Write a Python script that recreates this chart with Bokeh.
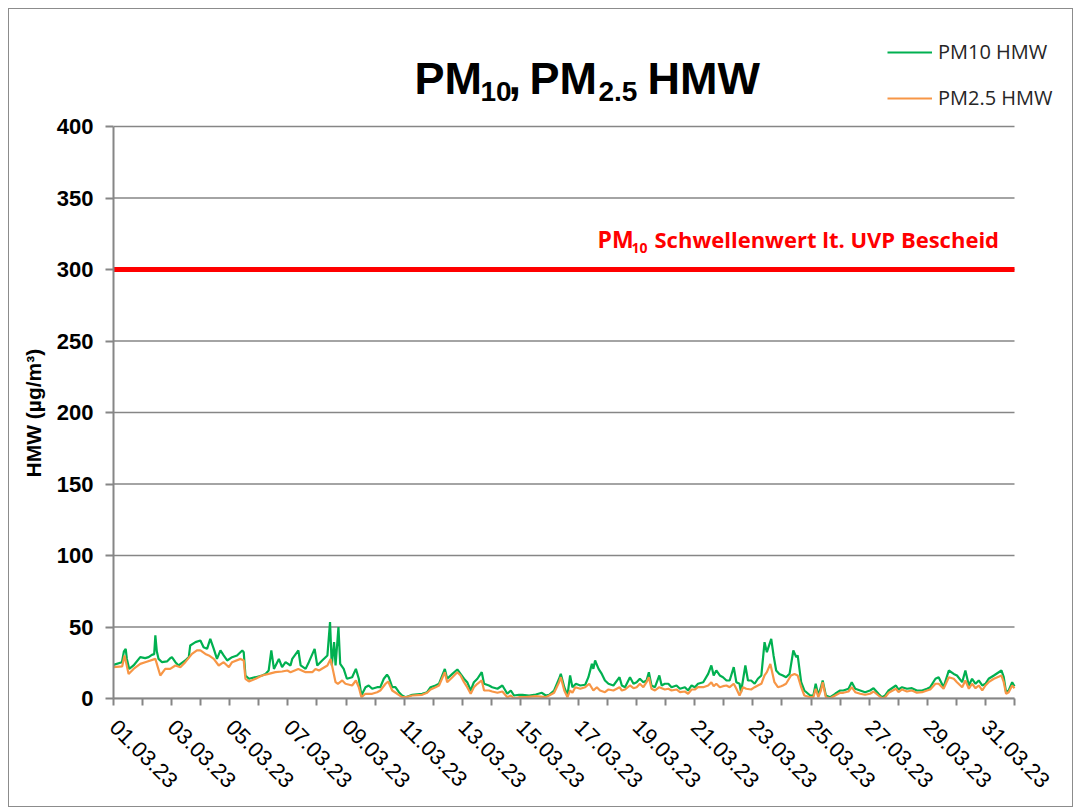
from bokeh.plotting import figure
from bokeh.models import Range1d, FixedTicker, Label, Legend, LegendItem, Title
from bokeh.embed import file_html
from bokeh.resources import INLINE

# ---- data: time in days since 01.03.23 00:00, values in µg/m³ ----
pm10_days = [0.00,0.29,0.36,0.42,0.46,0.54,0.69,0.92,1.09,1.21,1.32,1.40,1.44,1.49,1.55,1.67,1.84,1.95,2.01,2.13,
             2.24,2.47,2.59,2.64,2.82,2.99,3.10,3.22,3.33,3.45,3.56,3.68,3.79,3.91,4.08,4.25,4.43,4.48,4.54,4.66,
             4.89,5.11,5.23,5.34,5.43,5.52,5.69,5.80,5.92,6.09,6.15,6.36,6.44,6.61,6.72,6.92,7.01,7.18,7.36,7.45,
             7.51,7.59,7.64,7.74,7.80,7.92,8.03,8.21,8.34,8.44,8.53,8.67,8.78,8.90,9.07,9.18,9.30,9.41,9.47,9.59,
             9.70,9.82,9.93,10.05,10.28,10.62,10.79,10.91,11.08,11.20,11.40,11.48,11.66,11.83,11.94,12.06,12.17,12.29,12.40,12.52,
             12.67,12.75,12.92,13.03,13.21,13.38,13.55,13.67,13.78,13.95,14.07,14.30,14.53,14.74,14.87,14.99,15.16,15.33,15.39,15.51,
             15.62,15.71,15.79,15.91,16.06,16.23,16.34,16.46,16.51,16.57,16.69,16.80,16.91,17.03,17.20,17.41,17.49,17.60,17.77,17.89,
             18.00,18.11,18.23,18.34,18.42,18.51,18.63,18.78,18.86,18.97,19.09,19.20,19.37,19.49,19.66,19.77,19.89,20.00,20.11,20.29,
             20.46,20.57,20.65,20.74,20.86,20.97,21.09,21.20,21.34,21.43,21.54,21.59,21.74,21.83,21.94,22.06,22.17,22.29,22.40,22.48,
             22.63,22.71,22.80,22.91,23.03,23.14,23.26,23.39,23.49,23.54,23.66,23.77,23.97,24.08,24.16,24.25,24.34,24.40,24.51,24.66,
             24.83,25.00,25.11,25.29,25.40,25.52,25.69,25.86,26.03,26.15,26.32,26.44,26.55,26.67,26.92,27.01,27.13,27.30,27.47,27.64,
             27.82,27.99,28.10,28.28,28.39,28.56,28.74,28.91,29.02,29.20,29.31,29.43,29.54,29.66,29.77,29.89,30.00,30.11,30.29,30.55,
             30.63,30.71,30.80,30.92,31.00]
pm10_values = [23.5,25.4,33.0,34.7,27.7,20.7,23.1,28.9,28.2,28.9,30.5,31.0,44.1,33.0,27.7,25.4,25.9,28.2,28.9,25.4,
               23.1,26.6,28.9,37.1,39.4,40.6,35.9,34.7,41.7,34.7,27.7,33.6,30.1,26.6,28.9,30.1,33.6,32.4,16.1,13.8,
               14.9,16.1,17.2,19.6,33.6,20.7,27.7,21.9,25.4,23.1,27.7,33.6,23.1,20.7,25.4,34.7,23.1,26.6,30.1,53.4,
               23.1,39.4,23.1,49.9,24.2,20.7,13.8,14.9,20.7,13.8,2.1,7.9,9.1,6.8,7.9,7.9,13.8,16.6,14.9,7.9,
               7.9,4.4,2.1,0.9,2.6,3.3,4.4,7.9,9.1,10.3,20.7,13.8,17.2,20.3,17.2,13.8,11.4,5.6,11.4,13.8,
               18.4,10.3,9.1,7.9,6.8,9.1,3.3,5.6,2.1,2.6,2.6,2.1,2.8,4.0,2.1,2.6,5.6,13.8,17.2,7.9,
               2.1,16.1,7.9,10.3,9.1,9.6,14.9,24.2,20.7,26.6,20.7,17.2,12.6,10.3,9.1,14.9,9.1,7.9,14.9,10.3,
               11.4,13.8,11.4,12.6,18.4,9.1,7.9,16.1,9.1,10.3,10.3,7.9,9.1,6.8,7.9,5.6,9.1,7.9,10.3,11.4,
               17.2,23.1,16.1,19.6,16.1,14.9,12.6,12.6,21.9,11.4,10.3,4.4,23.1,12.6,12.6,10.3,13.8,16.1,39.4,32.4,
               41.7,30.1,19.6,17.2,16.1,14.9,17.2,33.6,28.9,30.1,11.4,5.6,2.1,2.1,10.3,2.1,7.9,12.6,2.1,0.9,
               3.3,5.6,5.6,6.8,11.4,6.8,5.6,4.4,5.6,7.2,3.3,0.9,2.1,5.6,9.1,6.3,7.9,6.8,7.2,5.6,
               5.6,6.8,7.9,13.8,14.9,7.9,19.6,17.2,16.1,11.4,19.6,9.1,13.8,10.3,12.6,9.1,10.3,13.8,16.1,19.6,
               14.9,4.4,5.6,11.4,8.6]

pm25_days = [0.00,0.30,0.38,0.52,0.69,0.92,1.09,1.44,1.61,1.78,1.95,2.13,2.30,2.47,2.70,2.87,2.99,3.16,3.28,3.45,
             3.62,3.79,3.97,4.08,4.37,4.48,4.54,4.66,4.89,5.11,5.34,5.57,5.80,5.98,6.09,6.36,6.61,6.84,6.95,7.07,
             7.36,7.47,7.64,7.72,7.87,7.98,8.21,8.34,8.44,8.53,8.67,8.90,9.07,9.18,9.36,9.45,9.59,9.76,9.93,10.05,
             10.28,10.62,10.79,10.91,11.08,11.20,11.40,11.48,11.66,11.83,11.94,12.06,12.17,12.29,12.40,12.52,12.67,12.75,12.92,13.03,
             13.21,13.38,13.55,13.67,13.78,13.95,14.18,14.53,14.87,14.99,15.16,15.33,15.39,15.51,15.62,15.71,15.79,15.89,16.06,16.23,
             16.37,16.51,16.63,16.74,16.91,17.03,17.20,17.41,17.49,17.60,17.77,17.89,18.00,18.11,18.23,18.34,18.42,18.51,18.63,18.78,
             18.97,19.09,19.20,19.37,19.49,19.66,19.77,19.89,20.00,20.11,20.29,20.46,20.57,20.65,20.74,20.86,20.97,21.09,21.20,21.34,
             21.43,21.54,21.66,21.77,21.94,22.06,22.17,22.29,22.40,22.48,22.60,22.74,22.86,22.97,23.03,23.14,23.31,23.43,23.54,23.66,
             23.77,23.97,24.08,24.16,24.25,24.34,24.40,24.51,24.66,24.83,25.00,25.11,25.29,25.40,25.52,25.69,25.86,26.03,26.15,26.32,
             26.44,26.55,26.67,26.92,27.01,27.13,27.30,27.47,27.64,27.82,27.99,28.10,28.28,28.39,28.56,28.74,28.91,29.02,29.20,29.31,
             29.43,29.54,29.66,29.77,29.89,30.00,30.11,30.29,30.55,30.63,30.71,30.80,30.92,31.00]
pm25_values = [21.9,22.5,30.1,17.2,20.7,24.2,25.4,27.7,16.1,20.7,20.7,23.1,21.9,25.4,31.2,33.6,33.6,31.2,30.1,27.7,
               23.1,25.4,21.9,25.4,27.7,26.6,13.8,11.9,13.8,16.1,17.2,18.4,18.9,19.6,18.4,20.7,18.4,18.4,20.7,19.6,
               23.1,27.7,11.4,10.3,12.6,10.3,9.1,12.6,7.9,0.9,3.3,3.3,4.4,5.6,10.3,11.9,5.6,3.3,0.9,0.9,
               2.1,2.6,4.0,6.3,7.9,9.1,18.4,11.4,14.9,18.4,16.1,11.4,7.9,3.3,7.9,10.3,12.6,5.6,5.6,4.9,
               4.0,4.9,0.9,2.1,0.2,0.9,0.9,1.6,0.9,2.1,4.0,11.4,14.9,5.6,0.9,5.6,4.0,7.9,6.8,7.9,
               10.3,5.6,7.9,5.6,4.4,6.3,5.6,7.9,5.6,6.3,9.1,7.2,7.9,10.3,7.9,11.4,14.9,6.8,5.6,7.9,
               6.3,6.8,5.6,6.3,4.4,4.9,3.3,6.3,6.3,7.9,7.9,9.1,11.4,8.6,10.3,7.9,8.6,9.1,7.9,10.3,
               6.8,2.1,7.9,6.8,6.3,7.9,9.1,10.3,16.1,18.4,24.2,11.4,7.9,8.6,9.1,10.3,16.1,17.2,16.1,7.9,
               2.1,0.9,0.9,6.8,0.9,5.6,11.4,0.9,0.2,2.1,4.0,4.0,4.9,7.9,4.4,3.3,2.6,3.3,4.9,2.1,
               0.2,0.9,4.0,6.8,4.4,6.3,4.9,5.6,4.0,4.4,5.6,6.3,10.3,10.3,6.8,14.9,13.8,11.4,7.9,12.6,
               6.8,10.3,7.2,9.1,5.6,9.1,11.4,13.8,16.1,11.4,3.3,4.4,9.1,7.2]

threshold = 300
y_ticks = [0, 50, 100, 150, 200, 250, 300, 350, 400]
day_ticks = list(range(32))
label_days = [0, 2, 4, 6, 8, 10, 12, 14, 16, 18, 20, 22, 24, 26, 28, 30]
date_labels = ["01.03.23", "03.03.23", "05.03.23", "07.03.23", "09.03.23", "11.03.23", "13.03.23", "15.03.23",
               "17.03.23", "19.03.23", "21.03.23", "23.03.23", "25.03.23", "27.03.23", "29.03.23", "31.03.23"]

GREEN = "#00B050"
ORANGE = "#F79646"
GRAY = "#868686"
RED = "#FF0000"
ARIAL = "Liberation Sans"

# layout (pixels)
W, H = 1065, 799
FL, FB = 104, 110           # frame left offset, bottom panel height
PLOT_W, PLOT_H = 901, 572   # pixel extent of the 0..31 days / 0..400 area
x_max = 31 * (W - FL) / PLOT_W
y_max = 400 * (H - FB) / PLOT_H

p = figure(width=W, height=H, x_range=Range1d(0, x_max), y_range=Range1d(0, y_max),
           output_backend="svg", toolbar_location=None,
           min_border_left=FL, min_border_right=0, min_border_top=0, min_border_bottom=FB)
p.styles = {"border": "1px solid #8c8c8c", "margin": "8px 0 0 8px"}
p.outline_line_color = None
p.background_fill_color = "white"
p.border_fill_color = "white"
p.xgrid.visible = False
p.ygrid.visible = False

# horizontal grid lines over the 0..31 day span
p.segment(x0=[0] * len(y_ticks), x1=[31] * len(y_ticks), y0=y_ticks, y1=y_ticks,
          line_color=GRAY, line_width=1.5)

r10 = p.line(pm10_days, pm10_values, line_color=GREEN, line_width=2.2)
r25 = p.line(pm25_days, pm25_values, line_color=ORANGE, line_width=2.2)

p.line([0, 31], [threshold, threshold], line_color=RED, line_width=5)

# axes
p.yaxis.ticker = FixedTicker(ticks=y_ticks)
p.yaxis.bounds = (0, 400)
p.yaxis.axis_line_color = GRAY
p.yaxis.axis_line_width = 2
p.yaxis.major_tick_line_color = GRAY
p.yaxis.major_tick_line_width = 2
p.yaxis.major_tick_in = 0
p.yaxis.major_tick_out = 8
p.yaxis.minor_tick_line_color = None
p.yaxis.major_label_standoff = 12
p.yaxis.major_label_text_font = ARIAL
p.yaxis.major_label_text_font_style = "bold"
p.yaxis.major_label_text_font_size = "22px"
p.yaxis.major_label_text_color = "black"

# y-axis title, centred on the 0..400 part of the axis
p.add_layout(Title(text="HMW (µg/m³)", align="left", offset=221, text_font=ARIAL,
                   text_font_size="21px", text_font_style="bold", text_color="black",
                   standoff=17), "left")

p.xaxis.ticker = FixedTicker(ticks=day_ticks)
p.xaxis.bounds = (0, 31)
overrides = {d: "" for d in day_ticks}
for d, lab_ in zip(label_days, date_labels):
    overrides[d] = lab_
p.xaxis.major_label_overrides = overrides
p.xaxis.major_label_orientation = -0.785398
p.xaxis.axis_line_color = GRAY
p.xaxis.axis_line_width = 2
p.xaxis.major_tick_line_color = GRAY
p.xaxis.major_tick_line_width = 2
p.xaxis.major_tick_in = 0
p.xaxis.major_tick_out = 7
p.xaxis.minor_tick_line_color = None
p.xaxis.major_label_standoff = 18
p.xaxis.major_label_text_font = ARIAL
p.xaxis.major_label_text_font_size = "22px"
p.xaxis.major_label_text_color = "black"


def lab(text, x, y, size, color="black", font=ARIAL, style="bold"):
    p.add_layout(Label(x=x, y=y, x_units="canvas", y_units="canvas", text=text,
                       text_font=font, text_font_size=size, text_font_style=style,
                       text_color=color, text_baseline="alphabetic", text_align="left"))


# title with subscripts
lab("PM", 404, 68, "45px")
lab("10", 470, 81, "28px")
lab(",", 498, 68, "45px")
lab("PM", 519, 68, "45px")
lab("2.5", 588, 81, "28px")
lab("HMW", 637, 68, "45px")

# threshold label
lab("PM", 587, 228, "23px", RED, "Open Sans")
lab("10", 621, 237, "14px", RED, "Open Sans")
lab("Schwellenwert lt. UVP Bescheid", 644, 228, "22px", RED, "Open Sans")

legend = Legend(items=[LegendItem(label="PM10 HMW", renderers=[r10]),
                       LegendItem(label="PM2.5 HMW", renderers=[r25])],
                location=(774, 587), glyph_width=45, glyph_height=20, label_height=20,
                spacing=19, padding=0, margin=0, label_standoff=6,
                label_text_font="Open Sans", label_text_font_size="20px",
                label_text_color="#262626",
                border_line_color=None, background_fill_alpha=0)
p.add_layout(legend)

open("out.html", "w").write(file_html(p, INLINE))
